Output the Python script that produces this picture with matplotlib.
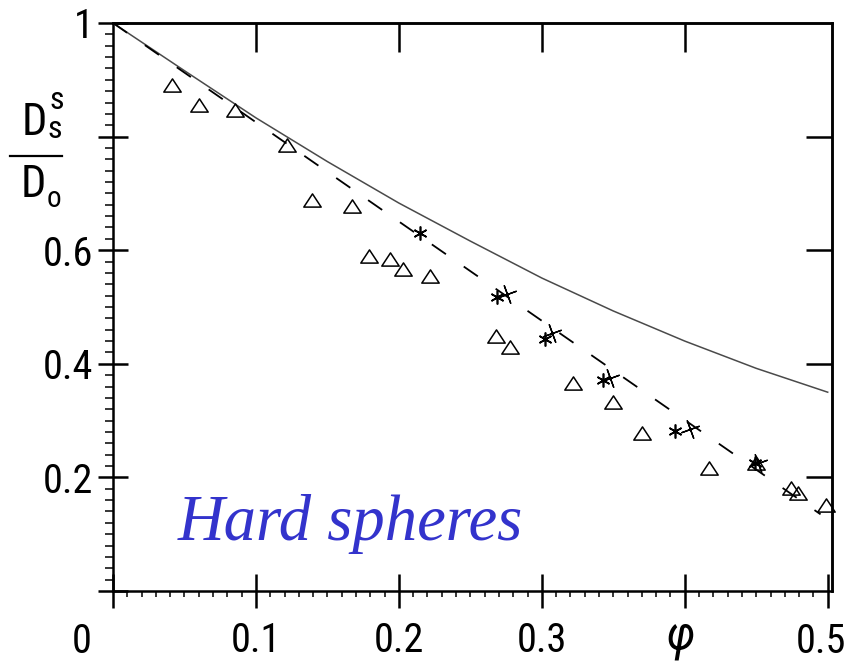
import matplotlib
matplotlib.use('Agg')
import matplotlib.pyplot as plt
from matplotlib import font_manager as fm
from matplotlib.ticker import FixedLocator, MultipleLocator, NullLocator
from matplotlib.path import Path
from matplotlib.lines import Line2D

# ---------------- data ----------------
theory_x = [0.0, 0.05, 0.1, 0.15, 0.2, 0.25, 0.3, 0.35, 0.4, 0.45, 0.5]
theory_y = [1.0, 0.916, 0.833, 0.756, 0.683, 0.616, 0.551, 0.493, 0.440, 0.392, 0.350]

dash_x = [0.0, 0.495]
dash_y = [1.0, 0.135]

tri_x = [0.041, 0.060, 0.085, 0.122, 0.139, 0.167, 0.179, 0.194, 0.203, 0.222,
         0.268, 0.278, 0.322, 0.350, 0.370, 0.417, 0.450, 0.474, 0.479, 0.499]
tri_y = [0.891, 0.856, 0.847, 0.786, 0.688, 0.677, 0.589, 0.584, 0.567, 0.554,
         0.449, 0.430, 0.367, 0.333, 0.279, 0.216, 0.225, 0.182, 0.172, 0.151]

star_x = [0.215, 0.2685, 0.302, 0.343, 0.393, 0.449]
star_y = [0.630, 0.518, 0.444, 0.372, 0.281, 0.225]

plus_x = [0.2755, 0.307, 0.3476, 0.4035, 0.451]
plus_y = [0.523, 0.454, 0.375, 0.286, 0.226]

xtick_vals = [0.0, 0.1, 0.2, 0.3, 0.4, 0.5]
xtick_labels = ['', '0.1', '0.2', '0.3', '', '']
ytick_vals = [0.0, 0.2, 0.4, 0.6, 0.8, 1.0]
ytick_labels = ['', '0.2', '0.4', '0.6', '', '1']
top_ticks = [0.1, 0.2, 0.3, 0.4]
right_ticks = [0.2, 0.4, 0.6, 0.8]

# ---------------- fonts ----------------
W, H = 849, 668
names = {f.name for f in fm.fontManager.ttflist}
sans = None
stretch = 'normal'
for c in ['Liberation Sans Narrow', 'Roboto Condensed', 'Open Sans Condensed',
          'Noto Sans Condensed', 'DejaVu Sans Condensed']:
    if c in names:
        sans = c
        break
if sans is None:
    for f in fm.fontManager.ttflist:
        if f.name in ('DejaVu Sans', 'Noto Sans', 'Roboto', 'Open Sans') and \
                str(f.stretch) in ('condensed', 'semi-condensed', 'extra-condensed'):
            sans = f.name
            stretch = 'condensed'
            break
if sans is None:
    sans = 'Liberation Sans'
    lab_size = 26
else:
    lab_size = 29
plt.rcParams['font.family'] = [sans, 'DejaVu Sans']
plt.rcParams['font.stretch'] = stretch

fig = plt.figure(figsize=(W / 100, H / 100), dpi=100)
L, R, T, B = 113, 832, 23, 591
ax = fig.add_axes([L / W, 1 - B / H, (R - L) / W, (B - T) / H])
ax.set_xlim(0, 0.503)
ax.set_ylim(0, 1)

ax.plot(theory_x, theory_y, color='#4a4a4a', lw=1.1)
ax.plot(dash_x, dash_y, color='black', lw=1.3, dashes=(9.5, 12))

tri = Path([(-1, -0.76), (1, -0.76), (0, 0.76), (-1, -0.76)],
           [Path.MOVETO, Path.LINETO, Path.LINETO, Path.CLOSEPOLY])
ax.plot(tri_x, tri_y, ls='none', marker=tri, ms=12.5, mfc='none', mec='black',
        mew=1.1, clip_on=False)
ax.plot(star_x, star_y, ls='none', marker=(6, 2, 0), ms=10, mec='black', mew=1.2)
ax.plot(plus_x, plus_y, ls='none', marker=(4, 2, 20), ms=14, mec='black', mew=1.0)

for s in ax.spines.values():
    s.set_linewidth(1.8)

ax.xaxis.set_major_locator(FixedLocator(xtick_vals))
ax.set_xticklabels(xtick_labels)
ax.xaxis.set_minor_locator(FixedLocator([i / 100 for i in range(51)]))
ax.yaxis.set_major_locator(FixedLocator(ytick_vals))
ax.set_yticklabels(ytick_labels)
ax.yaxis.set_minor_locator(MultipleLocator(0.02))

ax.tick_params(axis='x', which='major', direction='inout', length=25, width=1.8,
               pad=9, labelsize=lab_size)
ax.tick_params(axis='x', which='minor', direction='out', length=4.3, width=1.1)
ax.tick_params(axis='y', which='major', direction='inout', length=22, width=1.8,
               pad=3, labelsize=lab_size)
ax.tick_params(axis='y', which='minor', direction='out', length=5.8, width=1.1)

sec_top = ax.secondary_xaxis('top')
sec_top.set_xticks(top_ticks)
sec_top.xaxis.set_minor_locator(NullLocator())
sec_top.tick_params(direction='in', length=21, width=1.8, labeltop=False)
for s in sec_top.spines.values():
    s.set_linewidth(1.8)

sec_right = ax.secondary_yaxis('right')
sec_right.set_yticks(right_ticks)
sec_right.yaxis.set_minor_locator(NullLocator())
sec_right.tick_params(direction='in', length=19, width=1.8, labelright=False)
for s in sec_right.spines.values():
    s.set_linewidth(1.8)


def ptext(x, y, s, **kw):
    return fig.text(x / W, 1 - y / H, s, **kw)


# origin "0", phi (under 0.4) and "0.5" labels
ptext(82, 622, '0', ha='center', va='top', size=lab_size)
ptext(681, 614, 'φ', ha='center', va='top', size=lab_size + 5, style='italic')
ptext(846, 622, '0.5', ha='right', va='top', size=lab_size)

# y label: D_s^s / D_o
renderer = fig.canvas.get_renderer()
d1 = ptext(22, 135, 'D', ha='left', va='baseline', size=32)
x1 = d1.get_window_extent(renderer=renderer).x1 + 0.5
fig.text(x1 / W, 1 - 138 / H, 's', ha='left', va='baseline', size=23)
fig.text((x1 + 2) / W, 1 - 109 / H, 's', ha='left', va='baseline', size=23)
fig.add_artist(Line2D([10 / W, 62 / W], [1 - 156 / H, 1 - 156 / H],
                      color='black', lw=1.6, transform=fig.transFigure))
d2 = ptext(21, 197, 'D', ha='left', va='baseline', size=32)
x2 = d2.get_window_extent(renderer=renderer).x1 + 0.5
fig.text(x2 / W, 1 - 207 / H, 'o', ha='left', va='baseline', size=21)

# annotation
ptext(178, 540, 'Hard spheres', family='Liberation Serif', style='italic',
      size=46.5, color='#3333cc', ha='left', va='baseline')

fig.savefig('out.png', dpi=100)
